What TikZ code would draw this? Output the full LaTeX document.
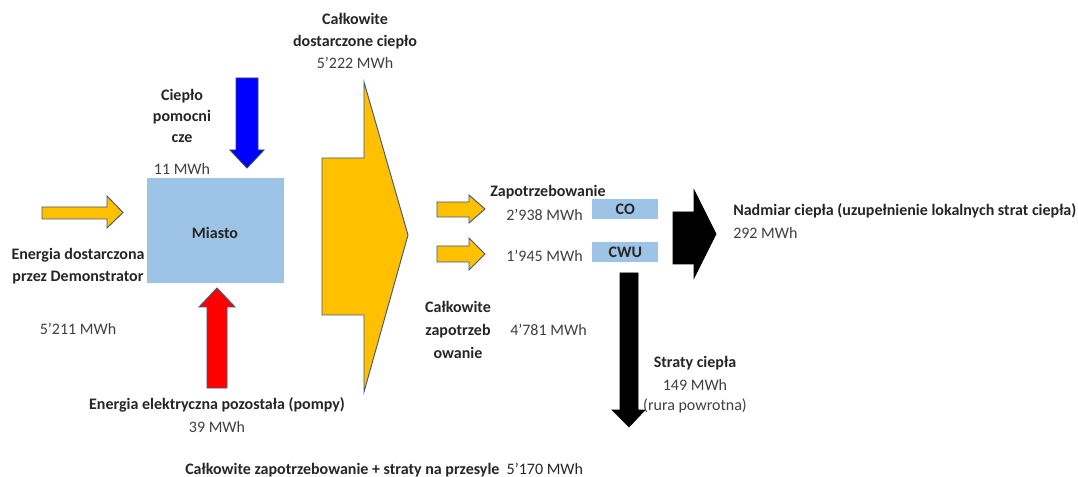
\documentclass[tikz,border=0pt]{standalone}
\usepackage{fontspec}
\setmainfont{Carlito}
\definecolor{yel}{HTML}{FFC000}
\definecolor{outl}{HTML}{41587C}
\definecolor{boxblue}{HTML}{9DC3E6}
\definecolor{txt}{HTML}{262626}
\definecolor{numtxt}{HTML}{404040}
\begin{document}
\begin{tikzpicture}[x=0.75pt,y=-0.75pt,
  lbl/.style={font=\fontsize{12}{16}\selectfont, text=numtxt, inner sep=0pt},
  blbl/.style={font=\fontsize{12}{16}\selectfont\bfseries, text=txt, inner sep=0pt},
  yarrow/.style={fill=yel, draw=outl, line width=0.7pt, line join=miter},
  barrow/.style={fill=blue, draw=outl!80!black, line width=0.7pt},
  rarrow/.style={fill=red, draw=outl, line width=0.7pt},
  karrow/.style={fill=black, draw=black, line width=0.5pt},
  bluebox/.style={fill=boxblue, draw=none, inner sep=0pt}]
\useasboundingbox[fill=white] (0,0) rectangle (1078,477);

% City box
\node[bluebox, minimum width=137*0.75pt, minimum height=105*0.75pt, anchor=north west] (miasto) at (147,178) {};
\node[blbl] (miastolbl) at (215,233) {Miasto};

% left yellow arrow
\draw[yarrow] (42,207) -- (107,207) -- (107,196) -- (123,212.5) -- (107,228) -- (107,219) -- (42,219) -- cycle;

% blue arrow
\draw[barrow] (236,78) -- (258,78) -- (258,150) -- (264,150) -- (247,168) -- (230,150) -- (236,150) -- cycle;

% red arrow
\draw[rarrow] (207,388) -- (207,307) -- (199,307) -- (217,288) -- (235,307) -- (227,307) -- (227,388) -- cycle;

% big yellow arrow
\draw[yarrow] (322,158) -- (364,158) -- (364,82) -- (408,235) -- (364,392) -- (364,315) -- (322,315) -- cycle;

% small yellow arrows
\draw[yarrow] (437,202) -- (469,202) -- (469,195) -- (485,209) -- (469,223) -- (469,217) -- (437,217) -- cycle;
\draw[yarrow] (437,246) -- (469,246) -- (469,238) -- (485,254) -- (469,270) -- (469,262) -- (437,262) -- cycle;

% CO / CWU boxes
\node[bluebox, minimum width=66*0.75pt, minimum height=20*0.75pt, anchor=north west] (co) at (592,199) {};
\node[blbl] (colbl) at (co.center) {CO};
\node[bluebox, minimum width=66*0.75pt, minimum height=20*0.75pt, anchor=north west] (cwu) at (592,242) {};
\node[blbl] (cwulbl) at (cwu.center) {CWU};

% black right arrow
\draw[karrow] (673,212) -- (694,212) -- (694,190) -- (716,234) -- (694,278) -- (694,264) -- (673,264) -- cycle;

% black down arrow
\draw[karrow] (620,273) -- (638,273) -- (638,410) -- (645,410) -- (629,427) -- (612,410) -- (620,410) -- cycle;

% texts
\node[blbl, align=center] (ciepl) at (182,116) {Ciepło\\pomocni\\cze};
\node[lbl] (c11) at (182,169) {11 MWh};
\node[blbl, align=center] (edem) at (78,266) {Energia dostarczona\\przez Demonstrator};
\node[lbl] (e5211) at (78,329) {5'211 MWh};
\node[blbl] (eel) at (217,405) {Energia elektryczna pozostała (pompy)};
\node[lbl] (e39) at (217,427) {39 MWh};
\node[blbl, align=center] (cdc) at (355,31) {Całkowite\\[1pt]dostarczone ciepło};
\node[lbl] (c5222) at (355,63) {5'222 MWh};
\node[blbl, anchor=west] (zap) at (490,192) {Zapotrzebowanie};
\node[lbl, anchor=east] (z2938) at (583,215) {2'938 MWh};
\node[lbl, anchor=east] (z1945) at (583,256) {1'945 MWh};
\node[blbl, align=center] (cz) at (458,330) {Całkowite\\[1pt]zapotrzeb\\[1pt]owanie};
\node[lbl, anchor=west] (z4781) at (510,330) {4'781 MWh};
\node[blbl] (strat) at (695,363) {Straty ciepła};
\node[lbl] (s149) at (695,385) {149 MWh};
\node[lbl] (srura) at (695,406) {(rura powrotna)};
\node[blbl, anchor=west] (nad) at (733,211) {Nadmiar ciepła (uzupełnienie lokalnych strat ciepła)};
\node[lbl, anchor=west] (n292) at (733,233) {292 MWh};
\node[blbl, anchor=west] (tot) at (185,470) {Całkowite zapotrzebowanie + straty na przesyle\ \ \mdseries 5'170 MWh};
\end{tikzpicture}
\end{document}
